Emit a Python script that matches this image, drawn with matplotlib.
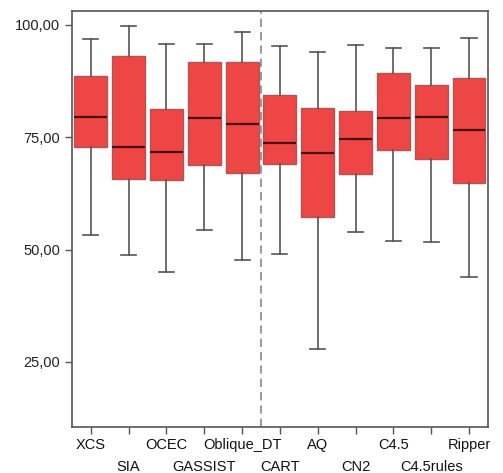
import matplotlib
matplotlib.use('Agg')
import matplotlib.pyplot as plt

plt.rcParams['font.family'] = ['Liberation Sans', 'DejaVu Sans']

# Box statistics
names = ['XCS', 'SIA', 'OCEC', 'GASSIST', 'Oblique_DT', 'CART', 'AQ', 'CN2',
         'C4.5', 'C4.5rules', 'Ripper']
whislo = [53.3, 48.9, 45.1, 54.3, 47.6, 49.0, 27.9, 53.9, 51.9, 51.7, 44.0]
q1 = [72.8, 65.7, 65.4, 68.8, 67.1, 69.0, 57.2, 66.9, 72.2, 70.2, 64.7]
med = [79.6, 72.8, 71.6, 79.3, 78.0, 73.6, 71.4, 74.6, 79.2, 79.4, 76.7]
q3 = [88.7, 93.0, 81.3, 91.8, 91.8, 84.4, 81.4, 80.9, 89.3, 86.7, 88.2]
whishi = [96.8, 99.7, 95.8, 95.8, 98.4, 95.3, 94.0, 95.5, 94.9, 94.9, 97.0]

stats = []
for i in range(len(names)):
    stats.append({'label': names[i], 'whislo': whislo[i], 'q1': q1[i], 'med': med[i],
                  'q3': q3[i], 'whishi': whishi[i], 'fliers': []})

fig = plt.figure(figsize=(5.03, 4.73), dpi=100)
ax = fig.add_axes([0.143, 0.097, 0.827, 0.880])

pos = list(range(1, len(names) + 1))
ax.bxp(stats, positions=pos, widths=0.87, patch_artist=True, showfliers=False,
       capwidths=0.4,
       boxprops=dict(facecolor='#ee4545', edgecolor='#b05555', linewidth=1.0),
       medianprops=dict(color='#4a1010', linewidth=1.6),
       whiskerprops=dict(color='#555555', linewidth=1.2),
       capprops=dict(color='#555555', linewidth=1.2))

ax.axvline(5.5, color='#888888', linestyle=(0, (5, 3)), linewidth=1.2)

ax.set_xlim(0.5, 11.5)
ax.set_ylim(10.5, 103.1)
ax.set_yticks([25, 50, 75, 100])
ax.set_yticklabels(['25,00', '50,00', '75,00', '100,00'], fontsize=10.5, color='#222222')

# labels alternate between two rows: odd ones on major ticks, even ones on minor ticks
ax.set_xticks(pos[0::2])
ax.set_xticklabels(names[0::2], fontsize=10.5, color='#111111')
ax.set_xticks(pos[1::2], minor=True)
ax.set_xticklabels(names[1::2], minor=True, fontsize=10.5, color='#111111')

ax.tick_params(axis='both', which='both', direction='out', length=5, color='#555555', width=1)
ax.tick_params(axis='x', which='major', pad=3)
ax.tick_params(axis='x', which='minor', pad=19)
for s in ax.spines.values():
    s.set_color('#555555')
    s.set_linewidth(1.2)

fig.savefig('out.png', dpi=100)
